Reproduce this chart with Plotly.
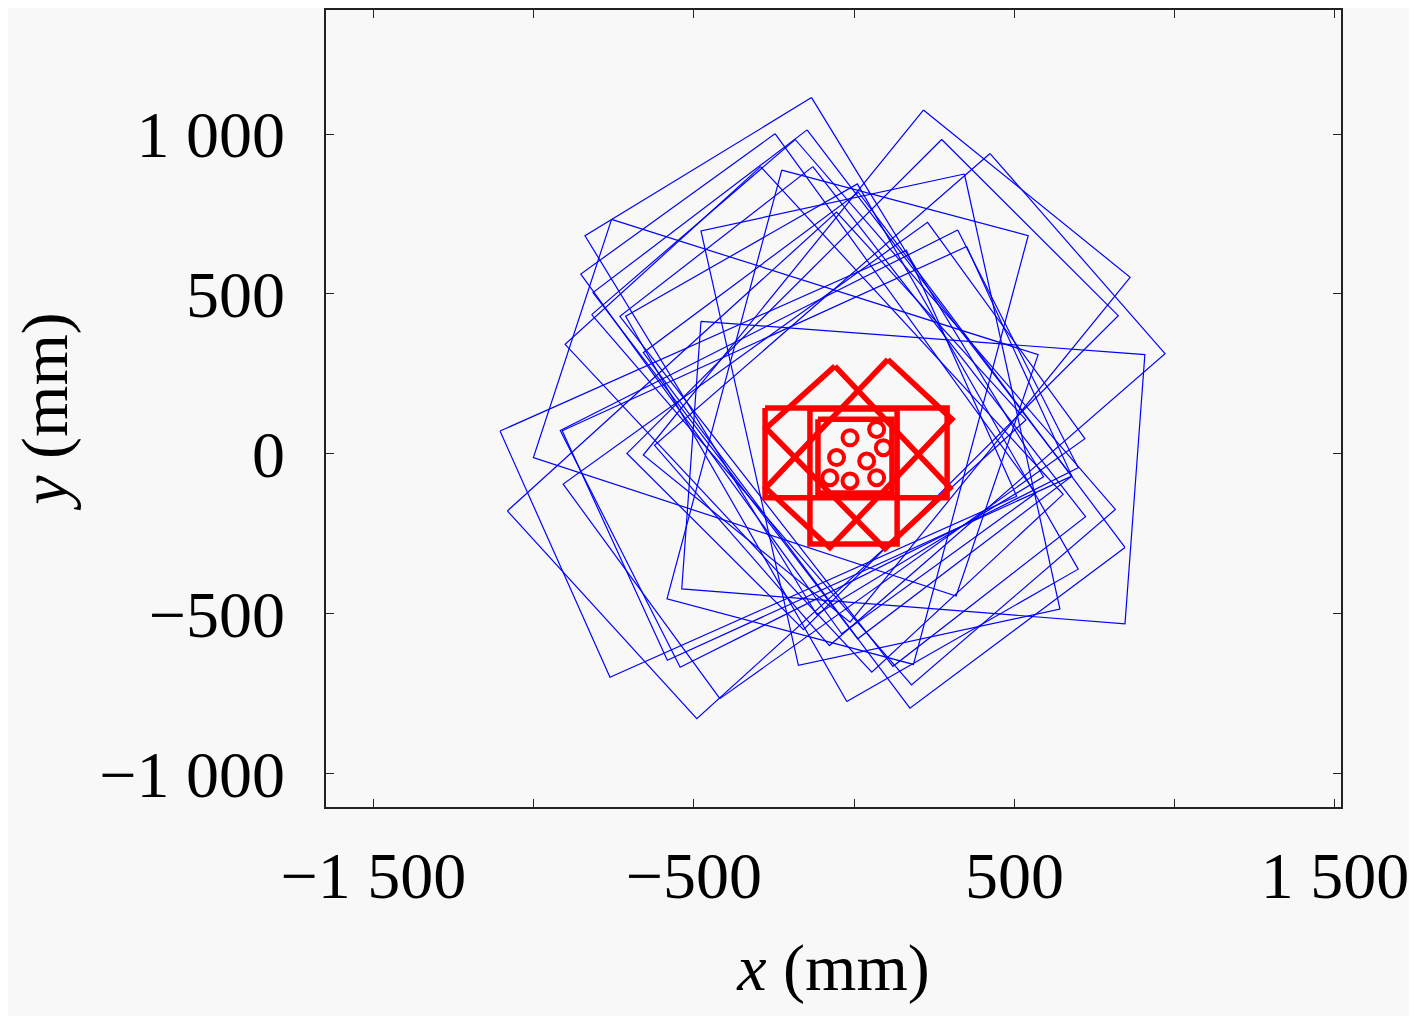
import plotly.graph_objects as go

# blue trajectory: corners of each rectangle, x and y in mm
blue_x = [
    [344, -478, -174, 642],
    [-478, 907, 845, -538],
    [216, 861, -13, -658],
    [-133, -840, -117, 591],
    [273, 824, -158, -709],
    [424, 970, -77, -623],
    [845, 174, -658, 13],
    [-226, 543, 185, -584],
    [-1105, -762, 507, 163],
    [-1082, -491, 536, -55],
    [-419, -908, 229, 720],
    [-757, -1001, 318, 574],
    [-247, -853, -39, 567],
    [-147, -815, 11, 679],
    [-292, -902, 55, 652],
    [-129, -731, 121, 722],
    [323, 699, -543, -917],
    [-23, 699, 10, -713],
    [351, 679, -583, -911],
    [-819, 179, 815, -184],
]
blue_y = [
    [875, 697, -662, -486],
    [414, 310, -532, -423],
    [1075, 552, -527, -4],
    [1114, 682, -503, -72],
    [983, 432, -550, 1],
    [939, 313, -600, 26],
    [-293, -796, 316, 818],
    [887, 682, -659, -454],
    [71, -699, -133, 636],
    [-179, -829, 106, 756],
    [-766, -95, 724, 47],
    [733, -12, -445, 310],
    [1001, 562, -563, -123],
    [1013, 504, -579, -70],
    [898, 342, -683, -127],
    [898, 430, -665, -197],
    [700, -44, -668, 73],
    [-775, -361, 844, 430],
    [648, -70, -646, 72],
    [435, -723, -174, 983],
]

# red trajectory
red_x = [
    [-278, 290, 290, -278],
    [-138, 134, 134, -138],
    [-113, 118, 118, -113],
    [-60, 299, 96, -275],
    [105, 305, -76, -276],
]
red_y = [
    [143, 143, -138, -138],
    [140, 140, -282, -282],
    [108, 108, -123, -123],
    [274, -107, -297, 80],
    [295, 108, -294, -107],
]
# small loops near the centre
loop_x = [-13, 70, -55, 39, -13, 70, -76, 91]
loop_y = [50, 76, -12, -23, -85, -75, -75, 19]


def closed_path(xs, ys):
    px, py = [], []
    for rx, ry in zip(xs, ys):
        px += list(rx) + [rx[0], None]
        py += list(ry) + [ry[0], None]
    return px, py


bx, by = closed_path(blue_x, blue_y)
rx, ry = closed_path(red_x, red_y)

fig = go.Figure()
fig.add_trace(go.Scatter(x=bx, y=by, mode="lines",
                         line=dict(color="#0000ff", width=1.2),
                         connectgaps=False, hoverinfo="skip"))
fig.add_trace(go.Scatter(x=rx, y=ry, mode="lines",
                         line=dict(color="#ff0000", width=5.5),
                         connectgaps=False, hoverinfo="skip"))
fig.add_trace(go.Scatter(x=loop_x, y=loop_y, mode="markers",
                         marker=dict(symbol="circle-open", size=15,
                                     color="#ff0000", line=dict(width=4)),
                         hoverinfo="skip"))

font = dict(family="Liberation Serif, DejaVu Serif, serif", size=66, color="black")

x_ticks = [-1500, -1000, -500, 0, 500, 1000, 1500]
x_text = ["\u22121 500", "", "\u2212500", "", "500", "", "1 500"]
y_ticks = [-1000, -500, 0, 500, 1000]
y_text = ["\u22121 000", "\u2212500", "0", "500", "1 000"]

axis_common = dict(showgrid=False, zeroline=False, showline=True,
                   linecolor="#222222", linewidth=1.5, mirror="ticks",
                   ticks="inside", ticklen=8, tickwidth=1.2, tickcolor="#222222",
                   tickfont=font)

fig.update_xaxes(range=[-1648, 1519], tickvals=x_ticks, ticktext=x_text,
                 ticklabelstandoff=10,
                 title=dict(text="<i>x</i> (mm)", font=font, standoff=33),
                 **axis_common)
fig.update_yaxes(range=[-1105, 1388], tickvals=y_ticks, ticktext=y_text,
                 ticklabelstandoff=26,
                 title=dict(text="<i>y</i> (mm)", font=font, standoff=32),
                 **axis_common)

fig.update_layout(width=1417, height=1016, showlegend=False,
                  margin=dict(l=318, r=84, t=0, b=217),
                  paper_bgcolor="#f8f8f8", plot_bgcolor="#f8f8f8",
                  font=font)

fig.write_html("out.html")
